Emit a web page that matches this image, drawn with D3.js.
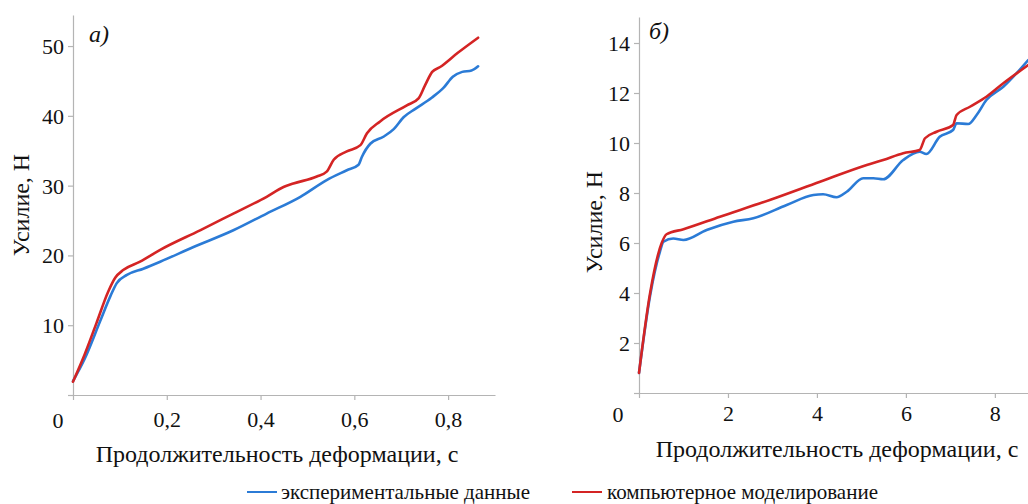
<!DOCTYPE html>
<html>
<head>
<meta charset="utf-8">
<script src="https://cdn.jsdelivr.net/npm/d3@7"></script>
<style>
  html, body { margin: 0; padding: 0; background: #fff; }
</style>
</head>
<body>
<svg id="chart" width="1028" height="504" font-family="Liberation Serif"></svg>
<script>
// Panel а: force vs. deformation time (s)
const timeA = [0, 0.025, 0.058, 0.08, 0.093, 0.115, 0.150, 0.186, 0.257, 0.342, 0.413, 0.485, 0.541, 0.584, 0.609, 0.616, 0.634, 0.662, 0.684, 0.705, 0.73, 0.765, 0.79, 0.81, 0.83, 0.85, 0.864];
const expA  = [2.0, 5.2, 10.6, 14.2, 16.0, 17.2, 18.1, 19.1, 21.2, 23.6, 26.0, 28.4, 30.8, 32.2, 33.0, 34.1, 36.0, 37.0, 38.1, 39.8, 41.0, 42.6, 44.0, 45.6, 46.3, 46.5, 47.1];
const timeSimA = [0, 0.02, 0.05, 0.075, 0.09, 0.107, 0.143, 0.186, 0.271, 0.342, 0.413, 0.449, 0.470, 0.520, 0.541, 0.556, 0.584, 0.613, 0.627, 0.655, 0.712, 0.737, 0.751, 0.766, 0.783, 0.82, 0.864];
const simA  = [1.9, 5.0, 10.3, 14.8, 16.8, 17.9, 19.1, 20.8, 23.6, 26.0, 28.4, 29.8, 30.3, 31.3, 32.0, 33.7, 34.9, 35.8, 37.5, 39.2, 41.5, 42.5, 44.4, 46.3, 47.0, 49.0, 51.2];

// Panel б
const timeB = [0, 0.25, 0.47, 0.55, 0.77, 1.0, 1.52, 2.12, 2.57, 3.32, 3.92, 4.14, 4.44, 4.67, 5.04, 5.27, 5.49, 5.94, 6.31, 6.46, 6.76, 7.06, 7.14, 7.40, 7.59, 7.81, 8.19, 8.75];
const expB  = [0.8, 3.9, 5.65, 6.05, 6.18, 6.12, 6.52, 6.85, 6.99, 7.52, 7.92, 7.95, 7.83, 8.05, 8.59, 8.59, 8.55, 9.32, 9.65, 9.56, 10.25, 10.52, 10.79, 10.76, 11.12, 11.72, 12.25, 13.32];
const timeSimB = [0, 0.25, 0.51, 0.62, 1.0, 1.82, 2.94, 4.07, 5.12, 5.49, 5.94, 6.31, 6.43, 6.69, 7.06, 7.14, 7.44, 7.81, 8.19, 8.75];
const simB  = [0.8, 4.0, 6.0, 6.35, 6.55, 7.05, 7.72, 8.45, 9.12, 9.32, 9.59, 9.72, 10.19, 10.45, 10.72, 11.12, 11.45, 11.85, 12.39, 13.12];

const xTicksA = [0, 0.2, 0.4, 0.6, 0.8];
const yTicksA = [0, 10, 20, 30, 40, 50];
const xTicksB = [0, 2, 4, 6, 8];
const yTicksB = [0, 2, 4, 6, 8, 10, 12, 14];

const seriesNames = ["экспериментальные данные", "компьютерное моделирование"];
const seriesColors = ["#2b7bd6", "#d42424"];
const xTitle = "Продолжительность деформации, с";
const yTitle = "Усилие, Н";

const FONT = "Liberation Serif";
const TICK_SIZE = 22;
const ru = d3.formatLocale({ decimal: ",", thousands: "\u00a0", grouping: [3], currency: ["", " ₽"] });

const svg = d3.select("#chart");

// font size that makes a string span the given width
function fitSize(str, width) {
  const t = svg.append("text").attr("font-family", FONT).attr("font-size", 20).text(str);
  const w = t.node().getComputedTextLength();
  t.remove();
  return Math.round(20 * width / w * 2) / 2;
}
const titleSize = fitSize(xTitle, 363);
const legendSize = fitSize(seriesNames[1], 270);

const panels = [
  { tag: "а)", left: 73, right: 495, top: 15, bottom: 395, xMax: 0.9, yMax: 54.45,
    xTicks: xTicksA, yTicks: yTicksA, fmt: ru.format(".1f"),
    series: [[timeA, expA], [timeSimA, simA]],
    tagPos: [89, 42], zeroPos: [58, 420], xLabelY: 419, xTitlePos: [277, 462], yTitlePos: [21, 205] },
  { tag: "б)", left: 639, right: 1034, top: 17, bottom: 393, xMax: 8.88, yMax: 15.04,
    xTicks: xTicksB, yTicks: yTicksB, fmt: ru.format("d"),
    series: [[timeB, expB], [timeSimB, simB]],
    tagPos: [649, 39], zeroPos: [618, 414], xLabelY: 413, xTitlePos: [837, 457], yTitlePos: [594, 222] }
];

function styleAxis(sel) {
  sel.attr("font-family", FONT).attr("font-size", TICK_SIZE);
  sel.selectAll("path, line").attr("stroke", "#b4b4b4").attr("stroke-width", 1.2);
  sel.selectAll("text").attr("fill", "#111");
}

panels.forEach(p => {
  const x = d3.scaleLinear().domain([0, p.xMax]).range([p.left, p.right]);
  const y = d3.scaleLinear().domain([0, p.yMax]).range([p.bottom, p.top]);
  const g = svg.append("g");

  // x axis
  const xa = g.append("g")
    .attr("transform", `translate(0,${p.bottom})`)
    .call(d3.axisBottom(x).tickValues(p.xTicks).tickSize(5).tickSizeOuter(0)
      .tickFormat(d => d === 0 ? "" : p.fmt(d)));
  styleAxis(xa);
  xa.selectAll("text").attr("dy", "0.35em").attr("y", p.xLabelY - p.bottom);

  // y axis
  const ya = g.append("g")
    .attr("transform", `translate(${p.left},0)`)
    .call(d3.axisLeft(y).tickValues(p.yTicks).tickSize(5).tickSizeOuter(0)
      .tickFormat(d => d === 0 ? "" : d));
  styleAxis(ya);
  ya.selectAll("text").attr("x", -9).attr("dy", "0.34em");

  // shared zero at the corner
  g.append("text").attr("x", p.zeroPos[0]).attr("y", p.zeroPos[1])
    .attr("text-anchor", "middle").attr("dy", "0.35em")
    .attr("font-family", FONT).attr("font-size", TICK_SIZE)
    .attr("fill", "#111").text("0");

  // curves
  const line = d3.line().x(d => x(d[0])).y(d => y(d[1])).curve(d3.curveMonotoneX);
  p.series.forEach((s, i) => {
    const pts = s[0].map((t, k) => [t, s[1][k]]);
    g.append("path").datum(pts)
      .attr("d", line)
      .attr("fill", "none")
      .attr("stroke", seriesColors[i])
      .attr("stroke-width", 2.6)
      .attr("stroke-linejoin", "round")
      .attr("stroke-linecap", "round");
  });

  // panel tag
  g.append("text").attr("x", p.tagPos[0]).attr("y", p.tagPos[1])
    .attr("font-family", FONT).attr("font-size", 24).attr("font-style", "italic")
    .attr("fill", "#111").text(p.tag);

  // axis titles
  g.append("text").attr("x", p.xTitlePos[0]).attr("y", p.xTitlePos[1])
    .attr("text-anchor", "middle").attr("font-family", FONT).attr("font-size", titleSize)
    .attr("fill", "#111").text(xTitle);
  g.append("text")
    .attr("transform", `translate(${p.yTitlePos[0]},${p.yTitlePos[1]}) rotate(-90)`)
    .attr("text-anchor", "middle").attr("dy", "0.35em")
    .attr("font-family", FONT).attr("font-size", titleSize).attr("fill", "#111").text(yTitle);
});

// legend
const legendItems = [{ x: 247, tx: 281 }, { x: 572, tx: 607 }];
const lg = svg.append("g");
legendItems.forEach((it, i) => {
  lg.append("line").attr("x1", it.x).attr("x2", it.x + 30).attr("y1", 492).attr("y2", 492)
    .attr("stroke", seriesColors[i]).attr("stroke-width", 2);
  lg.append("text").attr("x", it.tx).attr("y", 498.5).attr("font-family", FONT)
    .attr("font-size", legendSize).attr("fill", "#111").text(seriesNames[i]);
});
</script>
</body>
</html>
